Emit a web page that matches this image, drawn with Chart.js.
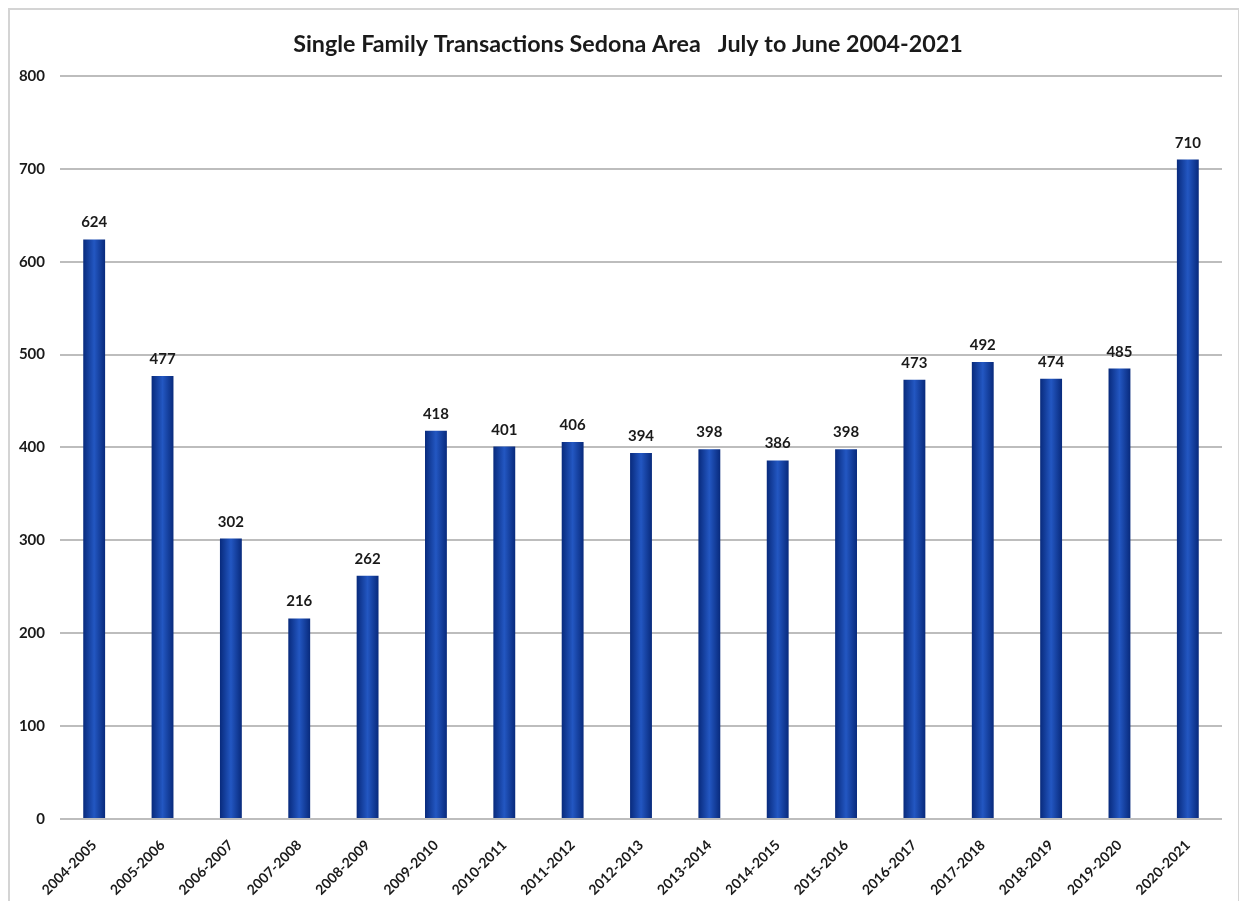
<!DOCTYPE html>
<html>
<head>
<meta charset="utf-8">
<script src="https://cdn.jsdelivr.net/npm/chart.js@4/dist/chart.umd.min.js"></script>
<style>
  html, body { margin: 0; padding: 0; background: #fff; }
  #frame {
    position: absolute; left: 8px; top: 8px; width: 1228px; height: 900px;
    border: 2px solid #d4d4d4; border-bottom: none;
  }
  #wrap { position: absolute; left: 0; top: 0; width: 1239px; height: 901px; }
</style>
</head>
<body>
<div id="frame"></div>
<div id="wrap"><canvas id="chart"></canvas></div>
<script>
// Sedona single family transactions, fiscal year July-June
const seasons = [
    '2004-2005', '2005-2006', '2006-2007', '2007-2008', '2008-2009', '2009-2010',
    '2010-2011', '2011-2012', '2012-2013', '2013-2014', '2014-2015', '2015-2016',
    '2016-2017', '2017-2018', '2018-2019', '2019-2020', '2020-2021'
];
const transactions = [624, 477, 302, 216, 262, 418, 401, 406, 394, 398, 386, 398, 473, 492, 474, 485, 710];
const yTicks = [0, 100, 200, 300, 400, 500, 600, 700, 800];

const BAR_PCT = 0.32;
const FONT = 'Lato, "Open Sans", sans-serif';

// bar fill: dark edges, lighter middle, like the Excel bevel look
function barFill(ctx) {
    const chart = ctx.chart;
    const xs = chart.scales.x;
    if (!xs || ctx.dataIndex === undefined) return '#16449f';
    const cx = xs.getPixelForValue(ctx.dataIndex);
    const half = xs.width / seasons.length * BAR_PCT / 2;
    if (!isFinite(cx) || !isFinite(half)) return '#16449f';
    const g = chart.ctx.createLinearGradient(cx - half, 0, cx + half, 0);
    g.addColorStop(0, '#082a7c');
    g.addColorStop(0.5, '#2357c2');
    g.addColorStop(1, '#082a7c');
    return g;
}

const valueLabels = {
    id: 'valueLabels',
    afterDatasetsDraw(chart) {
        const c = chart.ctx;
        const meta = chart.getDatasetMeta(0);
        c.save();
        c.font = 'bold 15px ' + FONT;
        c.fillStyle = '#1a1a1a';
        c.textAlign = 'center';
        c.textBaseline = 'alphabetic';
        meta.data.forEach(function (bar, i) {
            c.fillText(String(transactions[i]), bar.x, bar.y - 12);
        });
        c.restore();
    }
};

new Chart(document.getElementById('chart'), {
    type: 'bar',
    data: {
        labels: seasons,
        datasets: [{
            data: transactions,
            backgroundColor: barFill,
            barPercentage: BAR_PCT,
            categoryPercentage: 1,
        }],
    },
    options: {
        responsive: true,
        maintainAspectRatio: false,
        animation: false,
        layout: { padding: { left: 0, right: 17, top: 0, bottom: 0 } },
        plugins: {
            legend: { display: false },
            tooltip: { enabled: false },
            title: {
                display: true,
                // leading spaces nudge the centred title a little right, as in the original
                text: '      Single Family Transactions Sedona Area   July to June 2004-2021',
                color: '#1a1a1a',
                font: { family: FONT, size: 23.3, weight: 'bold', lineHeight: 1.2 },
                padding: { top: 30, bottom: 18 },
            },
        },
        scales: {
            x: {
                grid: { display: false },
                border: { display: false },
                ticks: {
                    color: '#1a1a1a',
                    font: { family: FONT, size: 14, weight: 'bold' },
                    minRotation: 45,
                    maxRotation: 45,
                    autoSkip: false,
                    padding: 10,
                },
                afterFit: function (scale) { scale.height = 82; },
            },
            y: {
                min: 0,
                max: 800,
                afterBuildTicks: function (scale) {
                    scale.ticks = yTicks.map(function (v) { return { value: v }; });
                },
                grid: { color: '#bdbdbd', lineWidth: 2, drawTicks: false },
                border: { display: false },
                ticks: {
                    color: '#1a1a1a',
                    font: { family: FONT, size: 15, weight: 'bold' },
                    padding: 15,
                },
                afterFit: function (scale) { scale.width = 60; },
            },
        },
    },
    plugins: [valueLabels],
});
</script>
</body>
</html>
